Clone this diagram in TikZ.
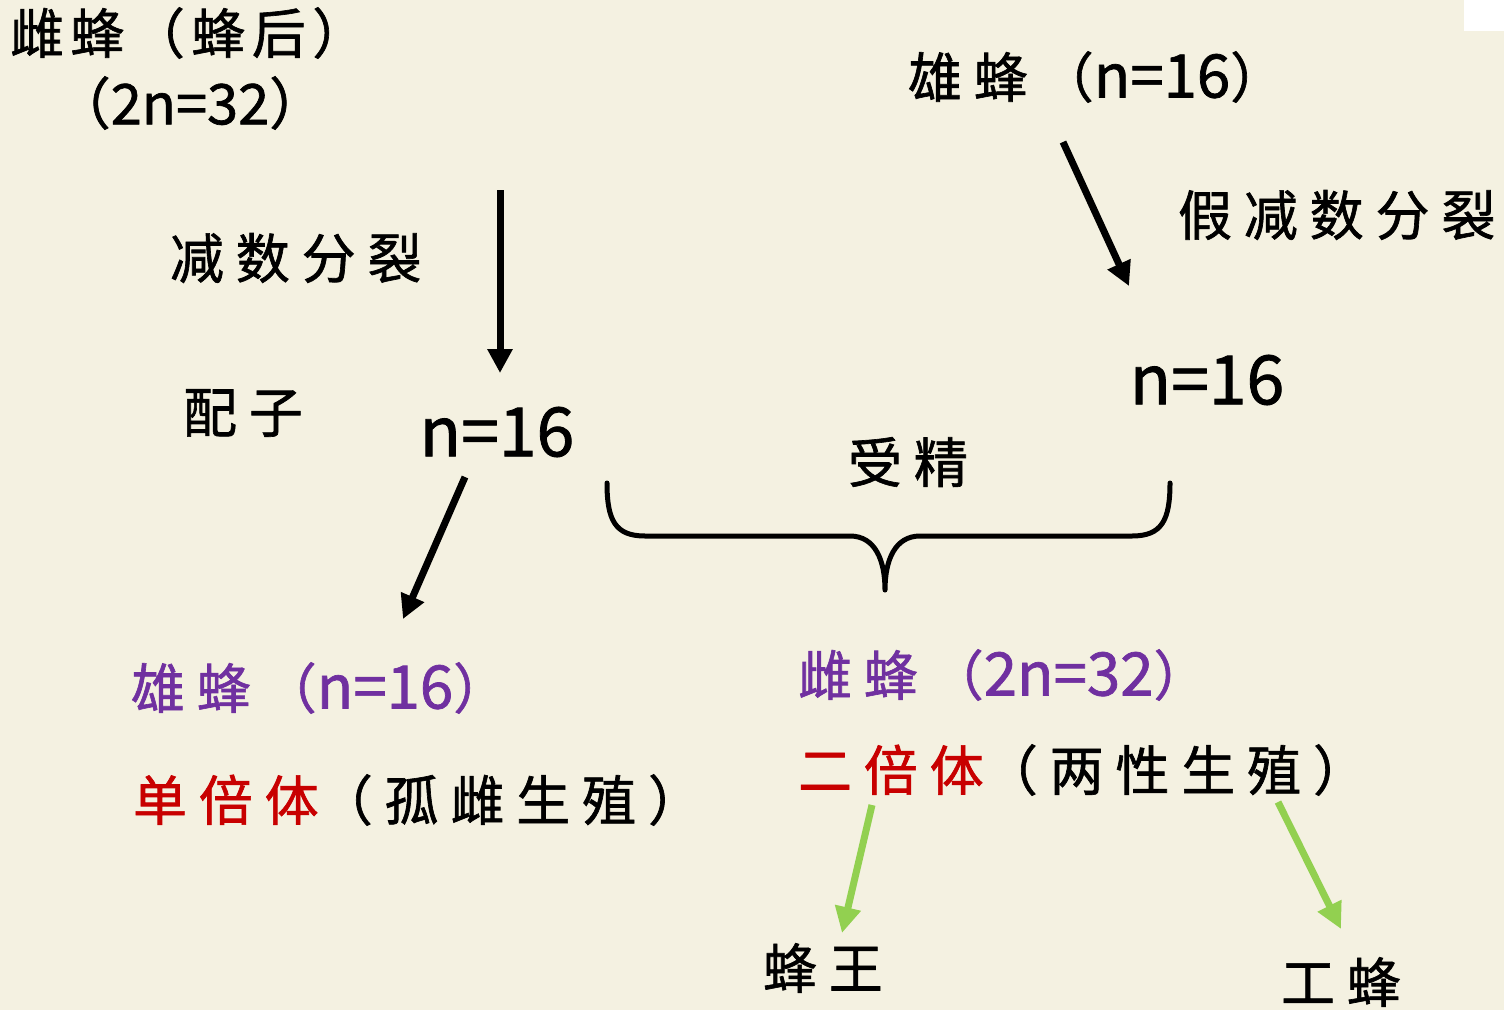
\documentclass[tikz,border=0pt]{standalone}
\usepackage{fontspec}
\setmainfont{Noto Sans CJK SC}[FakeBold=1.2]
\newfontfamily\cjkls{Noto Sans CJK SC}[LetterSpace=22,FakeBold=1.2]
\newfontfamily\cjklt{Noto Sans CJK SC}[LetterSpace=12,FakeBold=1.2]
\usetikzlibrary{arrows.meta}
\definecolor{bg}{HTML}{F4F1E1}
\definecolor{vio}{HTML}{7030A0}
\definecolor{rd}{HTML}{C80000}
\definecolor{grn}{HTML}{92D050}
\newcommand{\latn}[1]{{\normalfont\fontsize{60}{64}\selectfont #1}}
\tikzset{
  lbl/.style={inner sep=0pt, outer sep=0pt, anchor=west, font=\fontsize{54}{60}\selectfont\cjkls},
  big/.style={inner sep=0pt, outer sep=0pt, anchor=center, font=\fontsize{68}{74}\selectfont\normalfont},
  blk/.style={line width=7pt, draw=black, -{Triangle[length=24pt,width=24pt]}},
  gar/.style={line width=7pt, draw=grn, -{Triangle[length=26pt,width=25pt]}},
}
\begin{document}
\begin{tikzpicture}[x=1pt,y=-1pt]
\useasboundingbox (0,0) rectangle (1504,1010);
\fill[bg] (0,0) rectangle (1504,1010);
\fill[white] (1464,0) rectangle (1504,31);

\node[lbl,font=\fontsize{54}{60}\selectfont\cjklt] (q) at (10,33) {雌蜂（蜂后）};
\node[lbl,anchor=center,font=\fontsize{56}{60}\selectfont\normalfont] (q2) at (190,103) {（2n=32）};
\node[lbl] (md) at (170,258) {减数分裂};
\node[lbl] (pz) at (183,413) {配子};
\node[big] (n1) at (497,432) {n=16};
\node[lbl] (m) at (908,77) {雄蜂（\latn{n=16}）};
\node[lbl] (pmd) at (1178,215) {假减数分裂};
\node[big] (n2) at (1207,380) {n=16};
\node[lbl] (sj) at (848,462) {受精};
\node[lbl,text=vio] (m2) at (131,688) {雄蜂（\latn{n=16}）};
\node[lbl] (dbt) at (133,800) {\textcolor{rd}{单倍体}（孤雌生殖）};
\node[lbl,text=vio] (f2) at (798,675) {雌蜂（\latn{2n=32}）};
\node[lbl] (ebt) at (798,770) {\textcolor{rd}{二倍体}（两性生殖）};
\node[lbl] (fw) at (763,968) {蜂王};
\node[lbl] (gf) at (1281,982) {工蜂};

\coordinate (a1s) at (500,190);
\coordinate (a1e) at (500,373);
\coordinate (a2s) at (465,477);
\coordinate (a2e) at (403,619);
\coordinate (a3s) at (1063,142);
\coordinate (a3e) at (1129,286);
\coordinate (g1s) at (872,805);
\coordinate (g1e) at (842,933);
\coordinate (g2s) at (1278,802);
\coordinate (g2e) at (1341,929);

\draw[blk] (a1s) -- (a1e);
\draw[blk] (a2s) -- (a2e);
\draw[blk] (a3s) -- (a3e);
\draw[gar] (g1s) -- (g1e);
\draw[gar] (g2s) -- (g2e);

\coordinate (bl) at (607,483);
\coordinate (br) at (1170,483);
\coordinate (bt) at (885,590);
\draw[line width=5pt, line cap=round, line join=round]
  (bl) .. controls (607,520) and (615,536) .. (645,536) -- (850,536)
  .. controls (875,536) and (885,560) .. (bt)
  .. controls (885,560) and (895,536) .. (920,536) -- (1132,536)
  .. controls (1162,536) and (1170,520) .. (br);
\end{tikzpicture}
\end{document}
